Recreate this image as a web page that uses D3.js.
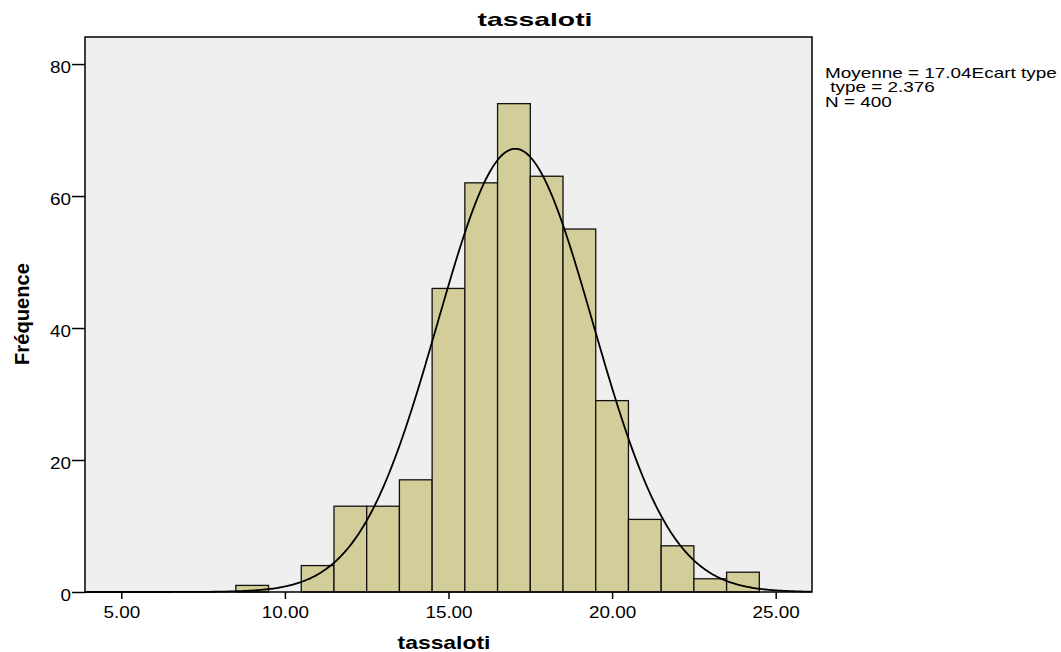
<!DOCTYPE html>
<html>
<head>
<meta charset="utf-8">
<script src="https://cdn.jsdelivr.net/npm/d3@7"></script>
<style>
  body { margin: 0; background: #fff; }
  svg text { font-family: "Liberation Sans", Arial, sans-serif; fill: #000; }
</style>
</head>
<body>
<svg width="1061" height="652"></svg>
<script>
// histogram bins (centre of each unit-wide bin) and counts
var binCentres = [9, 10, 11, 12, 13, 14, 15, 16, 17, 18, 19, 20, 21, 22, 23, 24];
var counts = [1, 0, 4, 13, 13, 17, 46, 62, 74, 63, 55, 29, 11, 7, 2, 3];
var xTicks = [5, 10, 15, 20, 25];
var yTicks = [0, 20, 40, 60, 80];
var mean = 17.04, sd = 2.376, n = 400, binWidth = 1;
var legendLines = ["Moyenne = 17.04Ecart type", " type = 2.376", "N = 400"];

var svg = d3.select("svg");
var plotL = 85, plotR = 812, plotT = 37, plotB = 592;

var x = d3.scaleLinear().domain([3.89, 26.11]).range([plotL, plotR]);
var y = d3.scaleLinear().domain([0, 84.1]).range([plotB, plotT]);

// the source picture is a bit wider than tall, so text gets stretched sideways
function stretch(sel, k) {
	sel.each(function() {
		var w = this.getComputedTextLength();
		d3.select(this).attr("textLength", w * k).attr("lengthAdjust", "spacingAndGlyphs");
	});
}

// plot background
svg.append("rect")
	.attr("x", plotL).attr("y", plotT)
	.attr("width", plotR - plotL).attr("height", plotB - plotT)
	.attr("fill", "#efefef");

// bars
svg.selectAll(".bar")
	.data(binCentres.map(function(c, i) { return { c: c, v: counts[i] }; }).filter(function(d) { return d.v > 0; }))
	.enter()
	.append("rect")
	.attr("class", "bar")
	.attr("x", function(d) { return x(d.c - binWidth / 2); })
	.attr("width", function(d) { return x(d.c + binWidth / 2) - x(d.c - binWidth / 2); })
	.attr("y", function(d) { return y(d.v); })
	.attr("height", function(d) { return y(0) - y(d.v); })
	.attr("fill", "#d3ce99")
	.attr("stroke", "#111")
	.attr("stroke-width", 1.3);

// normal curve
var pts = d3.range(3.89, 26.11, 0.05).map(function(v) {
	var z = (v - mean) / sd;
	return [v, n * binWidth * Math.exp(-0.5 * z * z) / (sd * Math.sqrt(2 * Math.PI))];
});
svg.append("path")
	.datum(pts)
	.attr("d", d3.line().x(function(d) { return x(d[0]); }).y(function(d) { return y(d[1]); }))
	.attr("fill", "none")
	.attr("stroke", "#000")
	.attr("stroke-width", 1.8);

// frame
svg.append("rect")
	.attr("x", plotL).attr("y", plotT)
	.attr("width", plotR - plotL).attr("height", plotB - plotT)
	.attr("fill", "none")
	.attr("stroke", "#000")
	.attr("stroke-width", 1.5);

// axes
var xAxis = svg.append("g")
	.attr("transform", "translate(0," + plotB + ")")
	.call(d3.axisBottom(x).tickValues(xTicks).tickFormat(d3.format(".2f")).tickSize(7).tickPadding(3));
var yAxis = svg.append("g")
	.attr("transform", "translate(" + plotL + ",0)")
	.call(d3.axisLeft(y).tickValues(yTicks).tickSize(13).tickPadding(1));
[xAxis, yAxis].forEach(function(g) {
	g.select(".domain").remove();
	g.selectAll(".tick line").attr("stroke", "#000").attr("stroke-width", 1.5);
	g.selectAll(".tick text").attr("font-size", 16).attr("font-family", "Liberation Sans, Arial, sans-serif").attr("fill", "#000");
});
xAxis.selectAll(".tick text").attr("y", 26).attr("dy", null);
yAxis.selectAll(".tick text").attr("dy", "0.5em");
stretch(xAxis.selectAll(".tick text"), 1.18);
stretch(yAxis.selectAll(".tick text"), 1.18);

// titles
var title = svg.append("text")
	.attr("x", 535).attr("y", 26)
	.attr("text-anchor", "middle")
	.attr("font-size", 19).attr("font-weight", "bold")
	.attr("textLength", 115).attr("lengthAdjust", "spacingAndGlyphs")
	.text("tassaloti");
svg.append("text")
	.attr("x", 444).attr("y", 649)
	.attr("text-anchor", "middle")
	.attr("font-size", 19).attr("font-weight", "bold")
	.attr("textLength", 93).attr("lengthAdjust", "spacingAndGlyphs")
	.text("tassaloti");
svg.append("text")
	.attr("transform", "translate(29,314) rotate(-90)")
	.attr("text-anchor", "middle")
	.attr("font-size", 20).attr("font-weight", "bold")
	.attr("textLength", 102).attr("lengthAdjust", "spacingAndGlyphs")
	.text("Fréquence");

// stats legend
var legend = svg.selectAll(".legend")
	.data(legendLines)
	.enter()
	.append("text")
	.attr("class", "legend")
	.attr("x", 825)
	.attr("y", function(d, i) { return 78 + i * 14.3; })
	.attr("font-size", 15)
	.style("white-space", "pre")
	.text(function(d) { return d; });
stretch(legend, 1.26);
</script>
</body>
</html>
